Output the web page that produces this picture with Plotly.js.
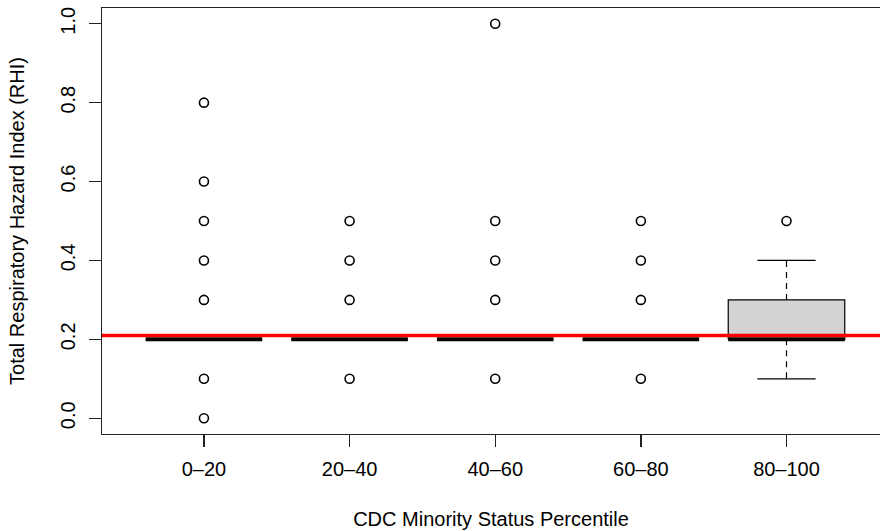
<!DOCTYPE html>
<html>
<head>
<meta charset="utf-8">
<script src="https://cdn.plot.ly/plotly-3.0.1.min.js"></script>
<style>
  html, body { margin: 0; padding: 0; background: #ffffff; }
  #chart { width: 880px; height: 531px; }
</style>
</head>
<body>
<div id="chart"></div>
<script>
// ---- data ----
const categories   = ['0–20', '20–40', '40–60', '60–80', '80–100'];
const q1           = [0.2, 0.2, 0.2, 0.2, 0.2];
const medians      = [0.2, 0.2, 0.2, 0.2, 0.2];
const q3           = [0.2, 0.2, 0.2, 0.2, 0.3];
const whiskerLow   = [0.2, 0.2, 0.2, 0.2, 0.1];
const whiskerHigh  = [0.2, 0.2, 0.2, 0.2, 0.4];
const outliers0_20   = [0.8, 0.6, 0.5, 0.4, 0.3, 0.1, 0.0];
const outliers20_40  = [0.5, 0.4, 0.3, 0.1];
const outliers40_60  = [1.0, 0.5, 0.4, 0.3, 0.1];
const outliers60_80  = [0.5, 0.4, 0.3, 0.1];
const outliers80_100 = [0.5];
const meanRHI = 0.21;
const yTicks = [0.0, 0.2, 0.4, 0.6, 0.8, 1.0];

// ---- styles ----
const BOX_HALF = 0.4;     // half box width in category units
const CAP_HALF = 0.2;     // half staple width
const FONT = 'Liberation Sans, Arial, Helvetica, sans-serif';
const AXIS_COL = '#222222';

const outlierSets = [outliers0_20, outliers20_40, outliers40_60, outliers60_80, outliers80_100];
const xPos = categories.map((_, i) => i + 1);

// boxes (filled rectangles)
const boxX = [], boxY = [];
xPos.forEach((x, i) => {
  boxX.push(x - BOX_HALF, x + BOX_HALF, x + BOX_HALF, x - BOX_HALF, x - BOX_HALF, null);
  boxY.push(q1[i], q1[i], q3[i], q3[i], q1[i], null);
});
// whiskers (dashed)
const whX = [], whY = [];
xPos.forEach((x, i) => {
  whX.push(x, x, null, x, x, null);
  whY.push(q3[i], whiskerHigh[i], null, q1[i], whiskerLow[i], null);
});
// staples
const capX = [], capY = [];
xPos.forEach((x, i) => {
  capX.push(x - CAP_HALF, x + CAP_HALF, null, x - CAP_HALF, x + CAP_HALF, null);
  capY.push(whiskerHigh[i], whiskerHigh[i], null, whiskerLow[i], whiskerLow[i], null);
});
// medians
const medX = [], medY = [];
xPos.forEach((x, i) => {
  medX.push(x - BOX_HALF, x + BOX_HALF, null);
  medY.push(medians[i], medians[i], null);
});
// outliers
const outX = [], outY = [];
outlierSets.forEach((set, i) => set.forEach(v => { outX.push(xPos[i]); outY.push(v); }));

const traces = [
  { type: 'scatter', mode: 'lines', x: boxX, y: boxY, fill: 'toself', fillcolor: '#d3d3d3',
    line: { color: '#000000', width: 1.2 }, hoverinfo: 'skip', showlegend: false },
  { type: 'scatter', mode: 'lines', x: whX, y: whY,
    line: { color: '#000000', width: 1.2, dash: '6px,5px' }, hoverinfo: 'skip', showlegend: false },
  { type: 'scatter', mode: 'lines', x: capX, y: capY,
    line: { color: '#000000', width: 1.2 }, hoverinfo: 'skip', showlegend: false },
  { type: 'scatter', mode: 'lines', x: medX, y: medY,
    line: { color: '#000000', width: 4 }, hoverinfo: 'skip', showlegend: false },
  { type: 'scatter', mode: 'markers', x: outX, y: outY,
    marker: { symbol: 'circle-open', size: 9, color: '#000000', line: { width: 1.6, color: '#000000' } },
    hoverinfo: 'skip', showlegend: false }
];

const layout = {
  width: 880, height: 531,
  margin: { l: 102, r: 0, t: 8, b: 97, pad: 0 },
  paper_bgcolor: '#ffffff', plot_bgcolor: '#ffffff',
  font: { family: FONT, size: 20, color: '#000000' },
  showlegend: false,
  xaxis: {
    range: [0.3, 5.642], tickmode: 'array', tickvals: xPos, ticktext: categories,
    ticks: 'outside', ticklen: 12, tickwidth: 1.3, tickcolor: AXIS_COL,
    showline: true, linecolor: AXIS_COL, linewidth: 1.3, mirror: true,
    showgrid: false, zeroline: false, ticklabelstandoff: 5,
    tickfont: { family: FONT, size: 20, color: '#000000' },
    title: { text: 'CDC Minority Status Percentile', font: { family: FONT, size: 20, color: '#000000' }, standoff: 32 }
  },
  yaxis: {
    range: [-0.04, 1.04], tickmode: 'array', tickvals: yTicks, tickformat: '.1f', tickangle: -90,
    ticks: 'outside', ticklen: 12, tickwidth: 1.3, tickcolor: AXIS_COL,
    showline: true, linecolor: AXIS_COL, linewidth: 1.3, mirror: false,
    showgrid: false, zeroline: false, ticklabelstandoff: 6,
    tickfont: { family: FONT, size: 20, color: '#000000' },
    title: { text: 'Total Respiratory Hazard Index (RHI)', font: { family: FONT, size: 20, color: '#000000' }, standoff: 26 }
  },
  shapes: [
    { type: 'line', xref: 'paper', yref: 'y', x0: 0, x1: 1, y0: meanRHI, y1: meanRHI,
      line: { color: '#ff0000', width: 3.5 }, layer: 'above' }
  ]
};

Plotly.newPlot('chart', traces, layout, { staticPlot: true, displayModeBar: false });
</script>
</body>
</html>
